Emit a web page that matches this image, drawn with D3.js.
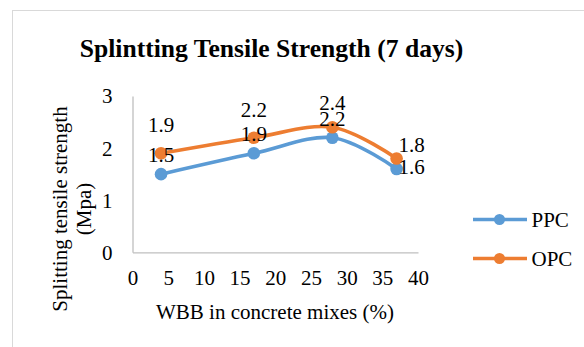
<!DOCTYPE html>
<html>
<head>
<meta charset="utf-8">
<script src="https://cdn.jsdelivr.net/npm/d3@7"></script>
<style>
  html, body { margin: 0; padding: 0; background: #fff; }
  svg { display: block; }
  svg text { font-variant-ligatures: none; font-feature-settings: "liga" 0, "clig" 0; }
</style>
</head>
<body>
<svg id="chart" width="584" height="347"></svg>
<script>
// WBB content (%) of each mix
const wbb = [4, 17, 28, 37];
// 7-day splitting tensile strength (MPa)
const ppc = [1.5, 1.9, 2.2, 1.6];
const opc = [1.9, 2.2, 2.4, 1.8];
const seriesNames = ["PPC", "OPC"];
const xTicks = [0, 5, 10, 15, 20, 25, 30, 35, 40];
const yTicks = [0, 1, 2, 3];

const FONT = "'Liberation Serif', 'Times New Roman', 'DejaVu Serif', serif";
const colors = { PPC: "#5B9BD5", OPC: "#ED7D31" };
// data label placement: [dx, dy, anchor] per point
const labelPlace = {
  PPC: [[0, -12, "middle"], [0, -12, "middle"], [0, -12, "middle"], [2, 5, "start"]],
  OPC: [[0, -21, "middle"], [0, -21, "middle"], [0, -17, "middle"], [2, -7, "start"]]
};

const svg = d3.select("#chart");

function styled(sel, size, weight) {
  return sel.attr("font-family", FONT)
    .style("font-family", FONT)
    .style("font-size", size + "px")
    .style("font-weight", weight || "normal")
    .attr("fill", "#000");
}

// chart frame
svg.append("rect")
  .attr("x", 12.5).attr("y", 10.5)
  .attr("width", 620).attr("height", 400)
  .attr("fill", "#fff").attr("stroke", "#D9D9D9").attr("stroke-width", 1);

const x = d3.scaleLinear().domain([0, 40]).range([132.5, 418]);
const y = d3.scaleLinear().domain([0, 3]).range([252.3, 96]);

// title
styled(svg.append("text"), 25.6, "bold")
  .attr("x", 271.5).attr("y", 57)
  .attr("text-anchor", "middle")
  .text("Splintting Tensile Strength (7 days)");

// axes
const xAxis = d3.axisBottom(x).tickValues(xTicks).tickSize(0).tickPadding(0).tickFormat(d3.format("d"));
const gx = svg.append("g").attr("transform", `translate(0,${y(0)})`).call(xAxis);
gx.select(".domain").attr("stroke", "#BFBFBF").attr("stroke-width", 1.3);
styled(gx.selectAll(".tick text"), 21).attr("y", 33).attr("dy", 0);

const yAxis = d3.axisLeft(y).tickValues(yTicks).tickSize(0).tickPadding(0).tickFormat(d3.format("d"));
const gy = svg.append("g").attr("transform", `translate(${x(0)},0)`).call(yAxis);
gy.select(".domain").attr("stroke", "#BFBFBF").attr("stroke-width", 1.3);
styled(gy.selectAll(".tick text"), 21).attr("x", -20).attr("dy", "0.33em");

// axis titles
styled(svg.append("text"), 21)
  .attr("x", 275).attr("y", 319)
  .attr("text-anchor", "middle")
  .text("WBB in concrete mixes (%)");

// y title: two rotated lines
["Splitting tensile strength", "(Mpa)"].forEach((t, i) => {
  styled(svg.append("text"), 21)
    .attr("transform", `translate(${67 + i * 24},209) rotate(-90)`)
    .attr("text-anchor", "middle")
    .text(t);
});

// series
const series = [
  { name: seriesNames[0], values: ppc },
  { name: seriesNames[1], values: opc }
];

const line = d3.line()
  .x(d => x(d[0]))
  .y(d => y(d[1]))
  .curve(d3.curveCardinal.tension(0));

series.forEach(s => {
  const pts = wbb.map((w, i) => [w, s.values[i]]);
  const g = svg.append("g");
  g.append("path")
    .attr("d", line(pts))
    .attr("fill", "none")
    .attr("stroke", colors[s.name])
    .attr("stroke-width", 3.6)
    .attr("stroke-linecap", "round");
  g.selectAll("circle").data(pts).join("circle")
    .attr("cx", d => x(d[0])).attr("cy", d => y(d[1]))
    .attr("r", 6.3)
    .attr("fill", colors[s.name]);
});

// data labels
series.forEach(s => {
  styled(svg.append("g").selectAll("text")
    .data(wbb.map((w, i) => [w, s.values[i], labelPlace[s.name][i]]))
    .join("text"), 21)
    .attr("x", d => x(d[0]) + d[2][0])
    .attr("y", d => y(d[1]) + d[2][1])
    .attr("text-anchor", d => d[2][2])
    .text(d => d3.format(".1f")(d[1]));
});

// legend
const legend = svg.append("g");
seriesNames.forEach((name, i) => {
  const ly = 219.5 + i * 39;
  legend.append("line")
    .attr("x1", 473).attr("x2", 527)
    .attr("y1", ly).attr("y2", ly)
    .attr("stroke", colors[name]).attr("stroke-width", 3.6);
  legend.append("circle")
    .attr("cx", 499.5).attr("cy", ly).attr("r", 5.5)
    .attr("fill", colors[name]);
  styled(legend.append("text"), 21)
    .attr("x", 531.5).attr("y", ly + 7)
    .text(name);
});
</script>
</body>
</html>
